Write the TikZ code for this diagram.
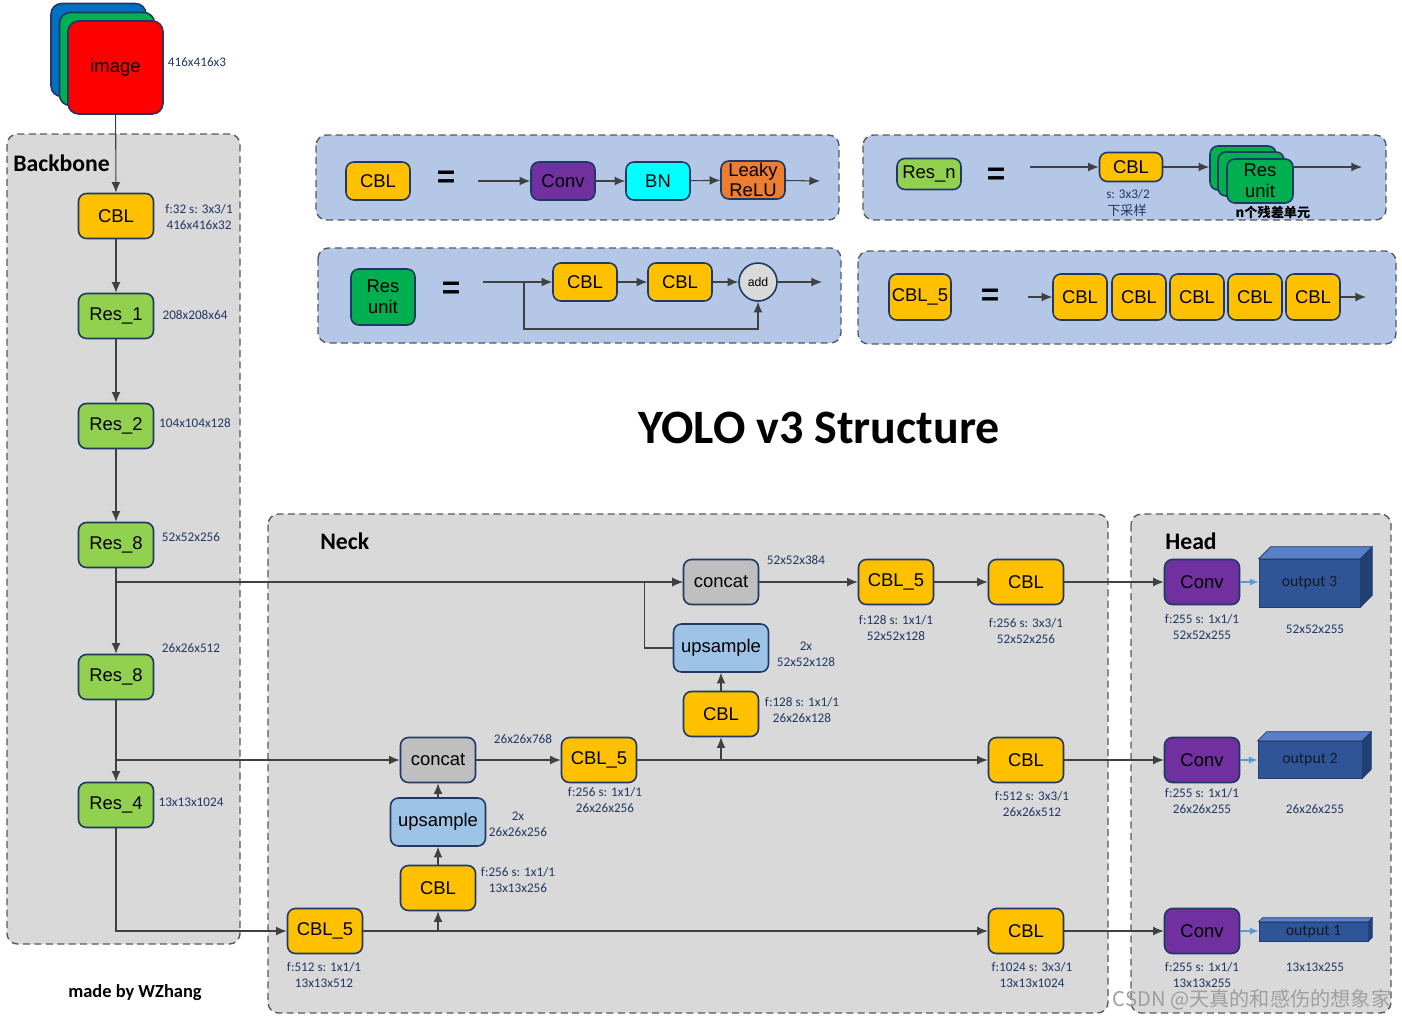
\documentclass[tikz,border=0pt]{standalone}
\usepackage{fontspec}
\setmainfont{Liberation Sans}
\newfontfamily\calfont{Carlito}
\newfontfamily\cjkfont{Noto Sans CJK SC}
\usepackage{xcolor}
\usetikzlibrary{arrows.meta,positioning,calc}

\definecolor{navy}{HTML}{1F3864}
\definecolor{infoblue}{HTML}{203864}
\definecolor{cblyellow}{HTML}{FFC000}
\definecolor{resgreen}{HTML}{92D050}
\definecolor{unitgreen}{HTML}{00B050}
\definecolor{convpurple}{HTML}{7030A0}
\definecolor{bncyan}{HTML}{00FFFF}
\definecolor{leakyorange}{HTML}{ED7D31}
\definecolor{concatgray}{HTML}{BFBFBF}
\definecolor{upblue}{HTML}{9DC3E6}
\definecolor{panelgray}{HTML}{D9D9D9}
\definecolor{panelblue}{HTML}{B4C7E7}
\definecolor{linegray}{HTML}{404040}
\definecolor{outfront}{HTML}{2F5597}
\definecolor{outtop}{HTML}{5A7FC9}
\definecolor{outside}{HTML}{223F73}
\definecolor{outtext}{HTML}{141A2A}
\definecolor{imgblue}{HTML}{0070C0}
\definecolor{imggreen}{HTML}{00B050}
\definecolor{imgred}{HTML}{FF0000}
\definecolor{arrowblue}{HTML}{5B9BD5}

\newcommand{\blkfont}{\fontsize{10.5}{11}\selectfont}
\newcommand{\infofont}{\calfont\fontsize{7.5}{9}\selectfont}

\begin{document}
\begin{tikzpicture}[x=0.02cm,y=-0.02cm]

\tikzstyle{blk}=[rectangle, rounded corners=4.5pt, draw=navy, line width=0.9pt, minimum width=1.5cm, minimum height=0.9cm, inner sep=1pt, font=\blkfont, align=center]
\tikzstyle{cblbox}=[blk, fill=cblyellow]
\tikzstyle{resbox}=[blk, fill=resgreen]
\tikzstyle{unitbox}=[blk, fill=unitgreen]
\tikzstyle{convbox}=[blk, fill=convpurple]
\tikzstyle{catbox}=[blk, fill=concatgray]
\tikzstyle{upbox}=[blk, fill=upblue, minimum width=1.9cm, minimum height=0.96cm]
\tikzstyle{smallbox}=[minimum width=1.28cm, minimum height=0.76cm]
\tikzstyle{imgbox}=[blk, rounded corners=6pt, minimum width=1.9cm, minimum height=1.86cm]
\tikzstyle{infotext}=[font=\infofont, text=infoblue, align=center, inner sep=0pt]
\tikzstyle{suite}=[-{Latex[length=6pt,width=5pt]}, draw=linegray, line width=0.6pt]
\tikzstyle{panel}=[draw=black!65, dash pattern=on 4pt off 2.5pt, line width=0.8pt, rounded corners=6pt]
\tikzstyle{titre}=[font=\calfont\bfseries\fontsize{13.5}{14}\selectfont, anchor=west, inner sep=0pt]
\tikzstyle{egal}=[font=\bfseries\fontsize{18}{18}\selectfont]
\tikzstyle{twolines}=[inner sep=0pt, font=\fontsize{10.5}{11.8}\selectfont]
\tikzstyle{outbox}=[rectangle, fill=outfront, draw=outside, line width=0.4pt, inner sep=0pt, font=\calfont\fontsize{9}{10}\selectfont, text=outtext]
\tikzstyle{tohead}=[-{Latex[length=5pt,width=4pt]}, draw=arrowblue, line width=0.6pt]

\useasboundingbox (0,0) rectangle (1402,1021);

% panneaux
\draw[panel, fill=panelgray] (7,134) rectangle (240,944);
\draw[panel, fill=panelgray] (268,514) rectangle (1108,1013);
\draw[panel, fill=panelgray] (1131,514) rectangle (1391,1013);
\draw[panel, fill=panelblue] (316,135) rectangle (839,220);
\draw[panel, fill=panelblue] (863,135) rectangle (1386,220);
\draw[panel, fill=panelblue] (318,248) rectangle (841,343);
\draw[panel, fill=panelblue] (858,251) rectangle (1396,344);

\node[titre] (tbackbone) at (13,163) {Backbone};
\node[titre] (tneck) at (320,541) {Neck};
\node[titre] (thead) at (1165,541) {Head};
\node[font=\calfont\bfseries\fontsize{27.3}{30}\selectfont] (titre) at (819,428) {YOLO v3 Structure};
\node[font=\calfont\bfseries\fontsize{10.5}{12}\selectfont] (auteur) at (135,993) {made by WZhang};

% CBL =
\node[cblbox, smallbox] (dcbl) at (378,181) {CBL};
\node[egal] (eq1) at (446,179) {=};
\coordinate (in1) at (478,181);
\node[convbox, smallbox] (dconv) at (563,181) {Conv};
\node[blk, smallbox, fill=bncyan] (dbn) at (658,181) {BN};
\node[blk, smallbox, fill=leakyorange, twolines] (dleaky) at (753,180) {Leaky\\ReLU};
\coordinate (out1) at (820,181);
\draw[suite] (in1) -- (dconv);
\draw[suite] (dconv) -- (dbn);
\draw[suite] (dbn) -- (dleaky);
\draw[suite] (dleaky) -- (out1);

% Res_n =
\node[resbox, minimum width=1.28cm, minimum height=0.62cm] (dresn) at (929,174) {Res\_n};
\node[egal] (eq2) at (996,176) {=};
\coordinate (in2) at (1030,167);
\node[cblbox, minimum width=1.26cm, minimum height=0.58cm] (dcbl2) at (1131,167) {CBL};
\node[infotext] (ds2) at (1128,194) {s: 3x3/2};
\node[infotext, font=\cjkfont\fontsize{7.5}{9}\selectfont] (dsample) at (1127,210) {下采样};
\node[unitbox, minimum width=1.32cm, minimum height=0.88cm] (unita) at (1243,168) {};
\node[unitbox, minimum width=1.32cm, minimum height=0.88cm] (unitb) at (1251,174) {};
\node[unitbox, minimum width=1.32cm, minimum height=0.88cm, twolines] (unitc) at (1260,181) {Res\\unit};
\node[font=\cjkfont\bfseries\fontsize{7.5}{9}\selectfont, inner sep=0pt] (dnunit) at (1273,212) {n个残差单元};
\coordinate (out2) at (1362,167);
\draw[suite] (in2) -- (dcbl2);
\draw[suite] (dcbl2) -- (unita.west |- dcbl2);
\draw[suite] (unitc.east |- dcbl2) -- (out2);

% Res unit =
\node[unitbox, minimum width=1.28cm, minimum height=1.12cm, twolines] (dunit) at (383,297) {Res\\unit};
\node[egal] (eq3) at (451,290) {=};
\coordinate (in3) at (483,282);
\coordinate (skip) at (524,282);
\node[cblbox, smallbox] (ucbl1) at (585,282) {CBL};
\node[cblbox, smallbox] (ucbl2) at (680,282) {CBL};
\node[circle, draw=navy, fill=panelgray, line width=0.9pt, minimum size=0.76cm, inner sep=0pt, font=\fontsize{7}{8}\selectfont] (add) at (758,282) {add};
\coordinate (out3) at (822,282);
\draw[suite] (in3) -- (ucbl1);
\draw[suite] (ucbl1) -- (ucbl2);
\draw[suite] (ucbl2) -- (add);
\draw[suite] (add) -- (out3);
\draw[suite] (skip) -- ++(0,47) -| (add.south);

% CBL_5 =
\node[cblbox, minimum width=1.24cm, minimum height=0.92cm] (dcbl5) at (920,297) {CBL\_5};
\node[egal] (eq4) at (990,297) {=};
\coordinate (in4) at (1028,297);
\foreach \i/\x in {1/1080,2/1139,3/1197,4/1255,5/1313}
  \node[cblbox, minimum width=1.08cm, minimum height=0.92cm] (c5\i) at (\x,297) {CBL};
\coordinate (out4) at (1366,297);
\draw[suite] (in4) -- (c51);
\draw[suite] (c55) -- (out4);

% backbone
\node[imgbox, fill=imgblue] (imgb) at (98.5,50) {};
\node[imgbox, fill=imggreen] (imgg) at (107,59) {};
\node[imgbox, fill=imgred] (img) at (115.5,67.5) {image};
\node[infotext] (limg) at (197,62) {416x416x3};
\node[cblbox] (cbl0) at (116,216) {CBL};
\node[resbox] (res1) at (116,316) {Res\_1};
\node[resbox] (res2) at (116,426) {Res\_2};
\node[resbox] (res8a) at (116,545) {Res\_8};
\node[resbox] (res8b) at (116,677) {Res\_8};
\node[resbox] (res4) at (116,805) {Res\_4};
\node[infotext] (lcbl0) at (199,217) {f:32 s: 3x3/1\\416x416x32};
\node[infotext] (lres1) at (195,315) {208x208x64};
\node[infotext] (lres2) at (195,423) {104x104x128};
\node[infotext] (lres8a) at (191,537) {52x52x256};
\node[infotext] (lres8b) at (191,648) {26x26x512};
\node[infotext] (lres4) at (191,802) {13x13x1024};
\coordinate (br1) at (116,582);
\coordinate (br2) at (116,760);
\draw[suite] (img) -- (cbl0);
\draw[suite] (cbl0) -- (res1);
\draw[suite] (res1) -- (res2);
\draw[suite] (res2) -- (res8a);
\draw[suite] (res8a) -- (res8b);
\draw[suite] (res8b) -- (res4);

% neck
\node[catbox] (cat1) at (721,582) {concat};
\node[cblbox] (cbl5a) at (896,582) {CBL\_5};
\node[cblbox] (cbla) at (1026,582) {CBL};
\node[upbox] (up1) at (721,648) {upsample};
\node[cblbox] (cblb) at (721,714) {CBL};
\node[catbox] (cat2) at (438,760) {concat};
\node[cblbox] (cbl5b) at (599,760) {CBL\_5};
\node[cblbox] (cblc) at (1026,760) {CBL};
\node[upbox] (up2) at (438,822) {upsample};
\node[cblbox] (cbld) at (438,888) {CBL};
\node[cblbox] (cbl5c) at (325,931) {CBL\_5};
\node[cblbox] (cble) at (1026,931) {CBL};
\coordinate (j1) at (721,760);
\coordinate (j2) at (438,931);

\node[infotext] (lcat1) at (796,560) {52x52x384};
\node[infotext] (lcbl5a) at (896,628) {f:128 s: 1x1/1\\52x52x128};
\node[infotext] (lcbla) at (1026,631) {f:256 s: 3x3/1\\52x52x256};
\node[infotext] (lup1) at (806,654) {2x\\52x52x128};
\node[infotext] (lcblb) at (802,710) {f:128 s: 1x1/1\\26x26x128};
\node[infotext] (lcat2) at (523,739) {26x26x768};
\node[infotext] (lcbl5b) at (605,800) {f:256 s: 1x1/1\\26x26x256};
\node[infotext] (lcblc) at (1032,804) {f:512 s: 3x3/1\\26x26x512};
\node[infotext] (lup2) at (518,824) {2x\\26x26x256};
\node[infotext] (lcbld) at (518,880) {f:256 s: 1x1/1\\13x13x256};
\node[infotext] (lcbl5c) at (324,975) {f:512 s: 1x1/1\\13x13x512};
\node[infotext] (lcble) at (1032,975) {f:1024 s: 3x3/1\\13x13x1024};

% head
\node[convbox] (conv3) at (1202,582) {Conv};
\node[convbox] (conv2) at (1202,760) {Conv};
\node[convbox] (conv1) at (1202,931) {Conv};
\node[outbox, minimum width=2.02cm, minimum height=0.96cm] (outp3) at (1309.5,583) {output 3};
\node[outbox, minimum width=2.08cm, minimum height=0.74cm] (outp2) at (1310,759.5) {output 2};
\node[outbox, minimum width=2.18cm, minimum height=0.38cm] (outp1) at (1313.5,931.5) {output 1};
\foreach \o/\d in {outp3/12,outp2/9,outp1/4}{
  \fill[outtop, draw=outside, line width=0.4pt] (\o.north west) -- ++(\d,-\d) -- ($(\o.north east)+(\d,-\d)$) -- (\o.north east) -- cycle;
  \fill[outside, draw=outside, line width=0.4pt] (\o.north east) -- ++(\d,-\d) -- ($(\o.south east)+(\d,-\d)$) -- (\o.south east) -- cycle;
}
\node[infotext] (lconv3) at (1202,627) {f:255 s: 1x1/1\\52x52x255};
\node[infotext] (lconv2) at (1202,801) {f:255 s: 1x1/1\\26x26x255};
\node[infotext] (lconv1) at (1202,975) {f:255 s: 1x1/1\\13x13x255};
\node[infotext] (lout3) at (1315,629) {52x52x255};
\node[infotext] (lout2) at (1315,809) {26x26x255};
\node[infotext] (lout1) at (1315,967) {13x13x255};

% fleches
\draw[suite] (br1) -- (cat1);
\draw[suite] (up1.west) -- ++(-28,0) |- (cat1.west);
\draw[suite] (cat1) -- (cbl5a);
\draw[suite] (cbl5a) -- (cbla);
\draw[suite] (cbla) -- (conv3);
\draw[suite] (cblb) -- (up1);
\draw[suite] (j1) -- (cblb);
\draw[suite] (br2) -- (cat2);
\draw[suite] (cat2) -- (cbl5b);
\draw[suite] (cbl5b) -- (cblc);
\draw[suite] (cblc) -- (conv2);
\draw[suite] (up2) -- (cat2);
\draw[suite] (cbld) -- (up2);
\draw[suite] (res4) |- (cbl5c);
\draw[suite] (cbl5c) -- (cble);
\draw[suite] (j2) -- (cbld);
\draw[suite] (cble) -- (conv1);
\draw[tohead] (conv3) -- (outp3.west |- conv3);
\draw[tohead] (conv2) -- (outp2.west |- conv2);
\draw[tohead] (conv1) -- (outp1.west |- conv1);

\node[font=\cjkfont\fontsize{11.5}{12}\selectfont, text=gray!75] (csdn) at (1252,1000) {CSDN @天真的和感伤的想象家};
\end{tikzpicture}
\end{document}
